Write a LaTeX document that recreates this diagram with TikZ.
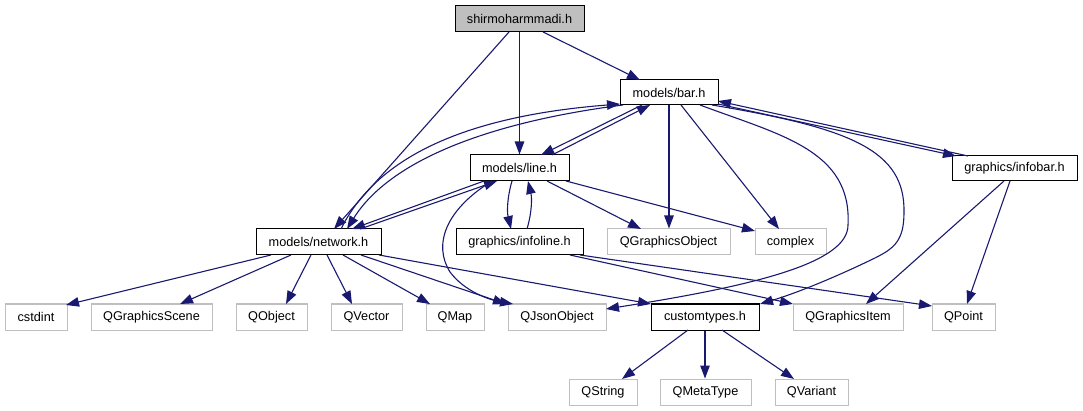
\documentclass[tikz,border=0pt]{standalone}
\usepackage{fontspec}
\setmainfont{Liberation Sans}
\usetikzlibrary{arrows.meta,calc}
\definecolor{edgec}{HTML}{191970}
\definecolor{graybd}{HTML}{BFBFBF}
\begin{document}
\begin{tikzpicture}[x=1pt,y=-1pt,
  box/.style={draw=black, line width=1pt, fill=white, inner sep=0pt, minimum height=26pt,
              font=\fontsize{12.7}{14}\selectfont, anchor=center},
  ext/.style={box, draw=graybd, line width=1pt},
  root/.style={box, fill=graybd},
  dep/.style={draw=edgec, line width=1.1pt, -{Triangle[length=13pt,width=9.5pt]}}
]
\useasboundingbox (0,0) rectangle (1083,411);
% nodes
\node[root, minimum width=129pt] (root) at (519.5,19) {shirmoharmmadi.h};
\node[box, minimum width=98pt, minimum height=25pt] (bar) at (669,92.5) {models/bar.h};
\node[box, minimum width=99pt] (line) at (519.5,168) {models/line.h};
\node[box, minimum width=125pt, minimum height=25pt] (infobar) at (1014.5,168.5) {graphics/infobar.h};
\node[box, minimum width=125pt] (network) at (318.5,242) {models/network.h};
\node[box, minimum width=127pt] (infoline) at (519.5,242) {graphics/infoline.h};
\node[ext, minimum width=123pt] (qgo) at (668.5,242) {QGraphicsObject};
\node[ext, minimum width=71pt] (complex) at (790.5,242) {complex};
\node[ext, minimum width=62pt] (cstdint) at (36,317) {cstdint};
\node[ext, minimum width=121pt] (qgs) at (151.5,317) {QGraphicsScene};
\node[ext, minimum width=71pt] (qobject) at (271.5,317) {QObject};
\node[ext, minimum width=71pt] (qvector) at (366.5,317) {QVector};
\node[ext, minimum width=58pt] (qmap) at (455,317) {QMap};
\node[ext, minimum width=98pt] (qjson) at (557,317) {QJsonObject};
\node[box, minimum width=108pt] (custom) at (705,317) {customtypes.h};
\node[ext, minimum width=110pt] (qgi) at (848,317) {QGraphicsItem};
\node[ext, minimum width=63pt] (qpoint) at (963.5,317) {QPoint};
\node[ext, minimum width=68pt] (qstring) at (603,392) {QString};
\node[ext, minimum width=91pt] (qmeta) at (705.5,392) {QMetaType};
\node[ext, minimum width=73pt] (qvariant) at (811.5,392) {QVariant};
% edges from root
\draw[dep] ($(root)+(23.5,13)$) -- ($(bar)+(-29,-12.5)$);
\draw[dep] (root.south) -- (line.north);
\draw[dep] ($(root)+(-10.5,13)$) -- ($(network)+(15.5,-13)$);
% bar <-> network
\draw[dep] ($(network)+(22.5,-13)$) .. controls (380,150) and (480,115) .. ($(bar)+(-49,11.5)$);
\draw[dep] ($(bar)+(-46,12.5)$) .. controls (490,122) and (390,160) .. ($(network)+(28.5,-13)$);
% bar <-> line
\draw[dep] ($(bar)+(-27,12.5)$) -- ($(line)+(21.5,-13)$);
\draw[dep] ($(line)+(32.5,-13)$) -- ($(bar)+(-19,12.5)$);
% line <-> network
\draw[dep] ($(line)+(-35.5,13)$) -- ($(network)+(33.5,-13)$);
\draw[dep] ($(network)+(41.5,-13)$) -- ($(line)+(-22.5,13)$);
% line <-> infoline
\draw[dep] ($(line)+(-7.5,13)$) .. controls (507,198) and (507,212) .. ($(infoline)+(-8.5,-13)$);
\draw[dep] ($(infoline)+(7.5,-13)$) .. controls (532,212) and (532,198) .. ($(line)+(8.5,13)$);
% line -> others
\draw[dep] ($(line)+(27.5,13)$) -- ($(qgo)+(-27.5,-13)$);
\draw[dep] ($(line)+(46.5,13)$) -- ($(complex)+(-35.5,-11)$);
\draw[dep] ($(line)+(-27.5,13)$) .. controls (445,210) and (433,245) .. (450,272)
           .. controls (465,292) and (490,300) .. ($(qjson)+(-44,-13)$);
% bar -> others
\draw[dep] (bar.south) -- (bar.south |- qgo.north);
\draw[dep] ($(bar)+(12,12.5)$) -- ($(complex)+(-11.5,-13)$);
\draw[dep] ($(bar)+(31,12.5)$) .. controls (780,135) and (852,150) .. (848,225)
           .. controls (848,262) and (760,285) .. ($(qjson)+(49,-8)$);
\draw[dep] ($(bar)+(43,12.5)$) .. controls (850,128) and (905,150) .. (904,212)
           .. controls (904,240) and (895,248) .. (875,258)
           .. controls (840,275) and (800,292) .. ($(custom)+(55,-13)$);
% bar <-> infobar
\draw[dep] ($(bar)+(49,11.5)$) -- ($(infobar)+(-58.5,-12.5)$);
\draw[dep] ($(infobar)+(-46.5,-12.5)$) -- ($(bar)+(49,8.5)$);
% infobar -> others
\draw[dep] ($(infobar)+(-10.5,12.5)$) -- ($(qgi)+(18,-13)$);
\draw[dep] ($(infobar)+(-4.5,12.5)$) -- ($(qpoint)+(3.5,-13)$);
% infoline -> others
\draw[dep] ($(infoline)+(50.5,13)$) -- ($(qgi)+(-55,-13)$);
\draw[dep] ($(infoline)+(60.5,13)$) -- ($(qpoint)+(-31.5,-11)$);
% network -> others
\draw[dep] ($(network)+(-47.5,13)$) -- ($(cstdint)+(30,-12)$);
\draw[dep] ($(network)+(-27.5,13)$) -- ($(qgs)+(28.5,-13)$);
\draw[dep] ($(network)+(-7.5,13)$) -- ($(qobject)+(14.5,-13)$);
\draw[dep] ($(network)+(8.5,13)$) -- ($(qvector)+(-14.5,-13)$);
\draw[dep] ($(network)+(24.5,13)$) -- ($(qmap)+(-25,-13)$);
\draw[dep] ($(network)+(42.5,13)$) -- ($(qjson)+(-51,-13)$);
\draw[dep] ($(network)+(60.5,13)$) -- ($(custom)+(-54,-13)$);
% customtypes -> others
\draw[dep] ($(custom)+(-17,13)$) -- ($(qstring)+(19,-13)$);
\draw[dep] (custom.south) -- (custom.south |- qmeta.north);
\draw[dep] ($(custom)+(17,13)$) -- ($(qvariant)+(-17.5,-13)$);
\end{tikzpicture}
\end{document}
